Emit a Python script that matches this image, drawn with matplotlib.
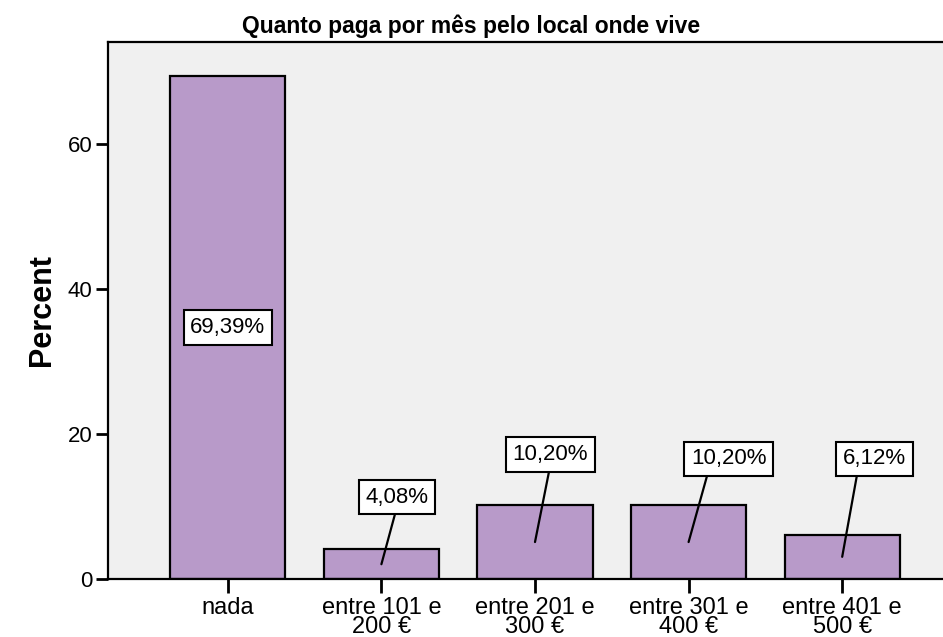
import matplotlib
matplotlib.use("Agg")
import matplotlib.pyplot as plt

categories = ["nada", "entre 101 e\n200 €", "entre 201 e\n300 €", "entre 301 e\n400 €", "entre 401 e\n500 €"]
percent = [69.39, 4.08, 10.20, 10.20, 6.12]
labels = ["69,39%", "4,08%", "10,20%", "10,20%", "6,12%"]

# label box placement (data coords), None = box sits on the bar itself
label_pos = [None, (1.10, 11.3), (2.10, 17.2), (3.26, 16.6), (4.21, 16.6)]
label_relx = [0.5, 0.5, 0.5, 0.24, 0.24]

plt.rcParams['font.family'] = ['Liberation Sans', 'DejaVu Sans']

fig = plt.figure(figsize=(9.43, 6.37), dpi=100)
ax = fig.add_axes([108 / 943, 58 / 637, (962 - 108) / 943, (579 - 42) / 637])
ax.set_facecolor('#f0f0f0')

x = range(len(categories))
ax.bar(x, percent, width=0.75, color='#b89ac9', edgecolor='black', linewidth=1.6, zorder=2)

box = dict(boxstyle='square,pad=0.3', facecolor='white', edgecolor='black', linewidth=1.5)
for i, v in enumerate(percent):
    if label_pos[i] is None:
        ax.text(i, v / 2, labels[i], ha='center', va='center', fontsize=16, bbox=box, zorder=4)
    else:
        ax.annotate(labels[i], xy=(i, v / 2), xytext=label_pos[i], ha='center', va='center',
                    fontsize=16, bbox=box, zorder=4,
                    arrowprops=dict(arrowstyle='-', color='black', lw=1.6, shrinkA=0, shrinkB=0,
                                    relpos=(label_relx[i], 0)))

ax.set_xlim(-0.78, 4.78)
ax.set_ylim(0, 74.1)
ax.set_yticks([0, 20, 40, 60])
ax.set_xticks(list(x))
ax.set_xticklabels(categories, fontsize=17, linespacing=0.82)
ax.tick_params(axis='y', labelsize=16, length=9, width=2, pad=2)
ax.tick_params(axis='x', length=10, width=2, pad=3)

for side in ['left', 'bottom', 'top']:
    ax.spines[side].set_linewidth(1.6)
ax.spines['right'].set_visible(False)

ax.set_ylabel("Percent", fontsize=22, fontweight='bold', labelpad=8)
fig.text(0.50, 0.959, "Quanto paga por mês pelo local onde vive", ha='center', va='center',
         fontsize=16.5, fontweight='bold')

fig.savefig("out.png", dpi=100)
